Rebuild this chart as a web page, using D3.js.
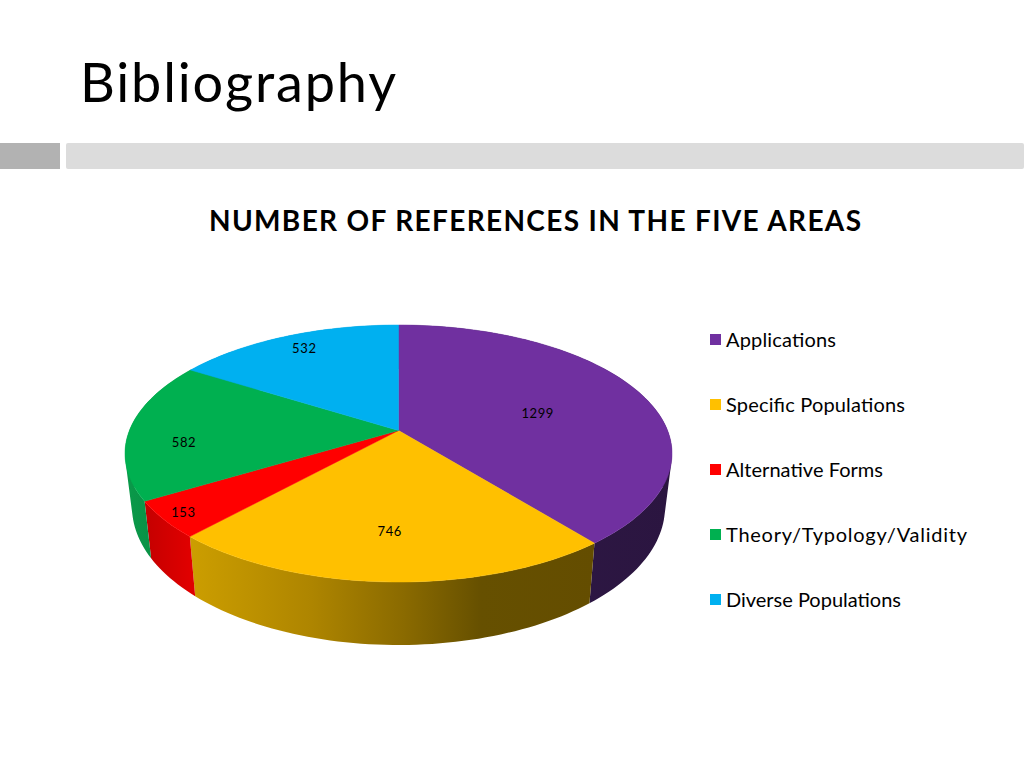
<!DOCTYPE html>
<html>
<head>
<meta charset="utf-8">
<title>Bibliography</title>
<script src="https://cdn.jsdelivr.net/npm/d3@7"></script>
<style>
  html, body { margin: 0; padding: 0; background: #fff; }
  svg { display: block; }
  text { font-family: Lato, "Open Sans", sans-serif; fill: #000; }
</style>
</head>
<body>
<svg id="chart" width="1024" height="768"></svg>
<script>
const categories = ["Applications", "Specific Populations", "Alternative Forms", "Theory/Typology/Validity", "Diverse Populations"];
const values = [1299, 746, 153, 582, 532];
const colors = ["#7030a0", "#ffc000", "#ff0000", "#00b050", "#00b0f0"];
const pageTitle = "Bibliography";
const chartTitle = "NUMBER OF REFERENCES IN THE FIVE AREAS";

const svg = d3.select("#chart");
const defs = svg.append("defs");

// top face and bottom rim of the tilted disc
const top_e = { cx: 398.5, cy: 453.5, rx: 273.5, ry: 128.5 };
const bot_e = { cx: 398.5, cy: 507, rx: 266.5, ry: 138 };
const persp = 0.179;   // pushes the centre of the pie up, like the perspective in the original

// angle (clockwise from top) and radius (0-1) to screen
function project(e, angle, r) {
  const u = r * Math.sin(angle);
  const v = -r * Math.cos(angle);
  const w = 1 - persp * v;
  return [
    e.cx + e.rx * u * Math.sqrt(1 - persp * persp) / w,
    e.cy + e.ry * (v - persp) / w
  ];
}

function arcAngles(d) {
  const n = Math.max(2, Math.ceil((d.endAngle - d.startAngle) * 40));
  return d3.range(n + 1).map(i => d.startAngle + (d.endAngle - d.startAngle) * i / n);
}

const line = d3.line();
const pie = d3.pie().sort(null).value(d => d);
const slices = pie(values);

// page header
svg.append("text")
  .attr("x", 80)
  .attr("y", 102)
  .attr("font-size", 54)
  .attr("textLength", 316)
  .attr("lengthAdjust", "spacing")
  .text(pageTitle);

svg.append("rect")
  .attr("x", 0).attr("y", 143)
  .attr("width", 60).attr("height", 26)
  .attr("fill", "#b2b2b2");
svg.append("rect")
  .attr("x", 66).attr("y", 143)
  .attr("width", 958).attr("height", 26)
  .attr("rx", 2)
  .attr("fill", "#dcdcdc");

svg.append("text")
  .attr("x", 209)
  .attr("y", 231)
  .attr("font-size", 28)
  .attr("font-weight", 700)
  .attr("textLength", 652)
  .attr("lengthAdjust", "spacing")
  .text(chartTitle);

// wall shading, runs left to right across each slice
const wallStops = [
  [["0%", "#2f1a47"], ["100%", "#2b1540"]],
  [["0%", "#cc9e00"], ["30%", "#ae8500"], ["53%", "#8a6a00"], ["72%", "#665000"], ["100%", "#644d00"]],
  [["0%", "#c40000"], ["100%", "#e00000"]],
  [["0%", "#0a9a4a"], ["100%", "#08843e"]],
  [["0%", "#0090c8"], ["100%", "#0090c8"]]
];

wallStops.forEach((stops, i) => {
  const xs = d3.extent(arcAngles(slices[i]).map(a => project(top_e, a, 1)[0]));
  const g = defs.append("linearGradient")
    .attr("id", "wall" + i)
    .attr("gradientUnits", "userSpaceOnUse")
    .attr("x1", xs[0]).attr("x2", xs[1])
    .attr("y1", 0).attr("y2", 0);
  g.selectAll("stop")
    .data(stops)
    .join("stop")
    .attr("offset", d => d[0])
    .attr("stop-color", d => d[1]);
});

// walls first, the top face covers whatever is behind it
// one quad per arc step, all wound the same way or the overlaps near the silhouette cancel out
svg.append("g")
  .selectAll("path")
  .data(slices)
  .join("path")
  .attr("fill", (d, i) => "url(#wall" + i + ")")
  .attr("d", d => {
    const a = arcAngles(d);
    return d3.pairs(a).map(p => {
      const quad = [
        project(top_e, p[0], 1),
        project(top_e, p[1], 1),
        project(bot_e, p[1], 1),
        project(bot_e, p[0], 1)
      ];
      if (d3.polygonArea(quad) < 0) quad.reverse();
      return line(quad) + "Z";
    }).join("");
  });

svg.append("g")
  .selectAll("path")
  .data(slices)
  .join("path")
  .attr("fill", (d, i) => colors[i])
  .attr("stroke", (d, i) => colors[i])
  .attr("stroke-width", 0.5)
  .attr("d", d => {
    const rim = arcAngles(d).map(t => project(top_e, t, 1));
    return line([project(top_e, 0, 0)].concat(rim)) + "Z";
  });

// data labels, mid angle of the slice then a hand nudge per slice
const labelNudge = [[-36, 11], [-2, -2], [-52, 20], [-21, 12], [-10, -12]];
svg.append("g")
  .selectAll("text")
  .data(slices)
  .join("text")
  .attr("text-anchor", "middle")
  .attr("dominant-baseline", "central")
  .attr("font-size", 13)
  .attr("letter-spacing", 0.6)
  .attr("x", (d, i) => project(top_e, (d.startAngle + d.endAngle) / 2, 0.72)[0] + labelNudge[i][0])
  .attr("y", (d, i) => project(top_e, (d.startAngle + d.endAngle) / 2, 0.72)[1] + labelNudge[i][1])
  .text(d => d.value);

// legend
const legendY = d3.scalePoint().domain(categories).range([340, 600]);
const legend = svg.append("g")
  .selectAll("g")
  .data(categories)
  .join("g")
  .attr("transform", d => "translate(710," + legendY(d) + ")");

legend.append("rect")
  .attr("x", 0).attr("y", -6)
  .attr("width", 11).attr("height", 11)
  .attr("fill", (d, i) => colors[i]);

const legendWidths = [110, 179, 157, 241, 175];
legend.append("text")
  .attr("x", 16)
  .attr("y", 7)
  .attr("font-size", 20)
  .attr("textLength", (d, i) => legendWidths[i])
  .attr("lengthAdjust", "spacing")
  .text(d => d);
</script>
</body>
</html>
